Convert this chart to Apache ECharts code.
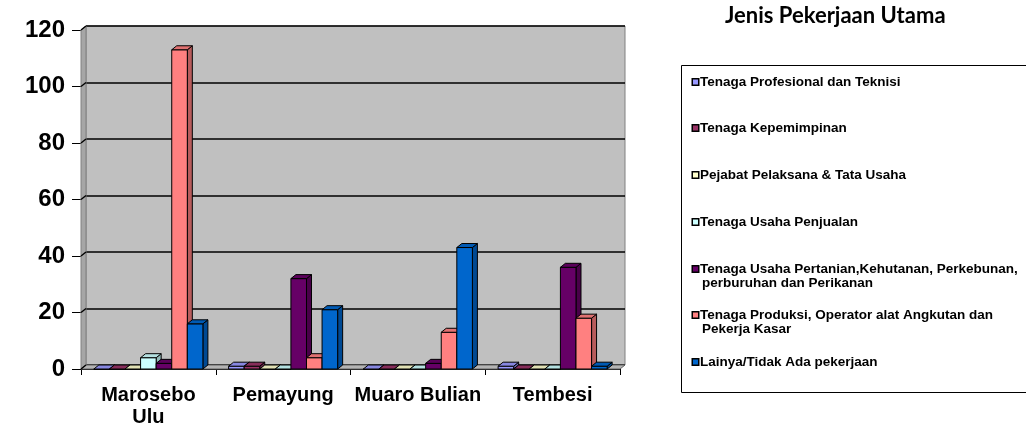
<!DOCTYPE html>
<html>
<head>
<meta charset="utf-8">
<script src="https://cdn.jsdelivr.net/npm/echarts@6/dist/echarts.min.js"></script>
<style>
  html, body { margin: 0; padding: 0; background: #ffffff; }
  #chart { width: 1026px; height: 428px; }
</style>
</head>
<body>
<div id="chart"></div>
<script>
// ---------- data ----------
const categories = ["Marosebo\nUlu", "Pemayung", "Muaro Bulian", "Tembesi"];
const yTicks = [0, 20, 40, 60, 80, 100, 120];

const seriesNames = [
  "Tenaga Profesional dan Teknisi",
  "Tenaga Kepemimpinan",
  "Pejabat Pelaksana & Tata Usaha",
  "Tenaga Usaha Penjualan",
  "Tenaga Usaha Pertanian,Kehutanan, Perkebunan, perburuhan dan Perikanan",
  "Tenaga Produksi, Operator alat Angkutan dan Pekerja Kasar",
  "Lainya/Tidak Ada pekerjaan"
];
const legendLines = [
  ["Tenaga Profesional dan Teknisi"],
  ["Tenaga Kepemimpinan"],
  ["Pejabat Pelaksana & Tata Usaha"],
  ["Tenaga Usaha Penjualan"],
  ["Tenaga Usaha Pertanian,Kehutanan, Perkebunan,", "perburuhan dan Perikanan"],
  ["Tenaga Produksi, Operator alat Angkutan dan", "Pekerja Kasar"],
  ["Lainya/Tidak Ada pekerjaan"]
];

const profesional  = [0, 1, 0, 1];
const kepemimpinan = [0, 1, 0, 0];
const pejabat      = [0, 0, 0, 0];
const penjualan    = [4, 0, 0, 0];
const pertanian    = [2, 32, 2, 36];
const produksi     = [113, 4, 13, 18];
const lainnya      = [16, 21, 43, 1];
const allValues = [profesional, kepemimpinan, pejabat, penjualan, pertanian, produksi, lainnya];

// ---------- style ----------
const colors = ["#9999FF", "#993366", "#FFFFCC", "#CCFFFF", "#660066", "#FF8080", "#0066CC"];
const FONT = "'Liberation Sans', Arial, sans-serif";
const DX = 5, DY = 4;            // fake 3D depth
const BAR_RATIO = 0.1156;        // bar width as share of category band
const legendTops = [75, 121, 168, 215, 262, 308, 355];

function shade(hex, f) {
  const n = parseInt(hex.slice(1), 16);
  const r = Math.round(((n >> 16) & 255) * f);
  const g = Math.round(((n >> 8) & 255) * f);
  const b = Math.round((n & 255) * f);
  return "rgb(" + r + "," + g + "," + b + ")";
}

function makeBarRenderer(sIdx) {
  return function (params, api) {
    const cat = api.value(0), v = api.value(1);
    const base = api.coord([cat, 0]);
    const top = api.coord([cat, v]);
    const band = api.size([1, 0])[0];
    const w = band * BAR_RATIO;
    const n = allValues.length;
    const x0 = base[0] - w * n / 2 + w * sIdx;
    const yb = base[1], yt = top[1];
    const c = colors[sIdx];
    const stroke = { stroke: "#000", lineWidth: 1 };
    return {
      type: "group",
      children: [
        { type: "polygon",
          shape: { points: [[x0 + w, yt], [x0 + w + DX, yt - DY], [x0 + w + DX, yb - DY], [x0 + w, yb]] },
          style: Object.assign({ fill: shade(c, 0.72) }, stroke) },
        { type: "rect",
          shape: { x: x0, y: yt, width: w, height: yb - yt },
          style: Object.assign({ fill: c }, stroke) },
        { type: "polygon",
          shape: { points: [[x0, yt], [x0 + w, yt], [x0 + w + DX, yt - DY], [x0 + DX, yt - DY]] },
          style: Object.assign({ fill: shade(c, 0.88) }, stroke) }
      ]
    };
  };
}

function renderFrame(params, api) {
  const n = categories.length;
  const band = api.size([1, 0])[0];
  const c0 = api.coord([0, 0]);
  const left = c0[0] - band / 2;
  const right = left + band * n;
  const y0 = c0[1];
  const yTop = api.coord([0, yTicks[yTicks.length - 1]])[1];
  const children = [
    { type: "polygon",
      shape: { points: [[left, y0], [left, yTop], [left + DX, yTop - DY], [left + DX, y0 - DY]] },
      style: { fill: "#A6A6A6", stroke: "#808080", lineWidth: 1 } },
    { type: "polygon",
      shape: { points: [[left, y0], [right, y0], [right + DX, y0 - DY], [left + DX, y0 - DY]] },
      style: { fill: "#B4B4B4", stroke: "#606060", lineWidth: 1 } }
  ];
  yTicks.forEach(function (t) {
    const y = api.coord([0, t])[1];
    children.push({ type: "line",
      shape: { x1: left, y1: y, x2: left + DX, y2: y - DY },
      style: { stroke: "#000", lineWidth: 1.5 } });
  });
  return { type: "group", children: children };
}

const series = [{
  type: "custom",
  name: "_frame",
  xAxisIndex: 1, yAxisIndex: 1,
  z: 1, silent: true,
  renderItem: renderFrame,
  data: [[0, 0]]
}];
allValues.forEach(function (vals, i) {
  series.push({
    type: "custom",
    name: seriesNames[i],
    xAxisIndex: 1, yAxisIndex: 1,
    z: 2,
    itemStyle: { color: colors[i] },
    renderItem: makeBarRenderer(i),
    data: vals.map(function (v, k) { return [k, v]; })
  });
});

const legends = seriesNames.map(function (name, i) {
  const lines = legendLines[i];
  return {
    data: [name],
    left: 688,
    top: legendTops[i],
    orient: "vertical",
    padding: 0,
    itemWidth: 0,
    itemHeight: 0,
    icon: "rect",
    itemStyle: { borderWidth: 0, color: "rgba(0,0,0,0)" },
    selectedMode: false,
    formatter: function () {
      let s = "{b|}{t|" + lines[0] + "}";
      for (let k = 1; k < lines.length; k++) s += "\n{p|}{t|" + lines[k] + "}";
      return s;
    },
    textStyle: {
      fontFamily: FONT, fontWeight: "bold", fontSize: 13.5, lineHeight: 14, color: "#000",
      rich: {
        b: { width: 5, height: 5, backgroundColor: colors[i], borderColor: "#000", borderWidth: 1.5 },
        p: { width: 7 },
        t: { fontFamily: FONT, fontWeight: "bold", fontSize: 13.5, lineHeight: 14, color: "#000", padding: [0, 0, 0, 2] }
      }
    }
  };
});

const option = {
  animation: false,
  backgroundColor: "#ffffff",
  title: {
    text: "Jenis Pekerjaan Utama",
    left: 725, top: 5, padding: 0,
    textStyle: { fontFamily: "Lato, 'Open Sans', sans-serif", fontWeight: "bold", fontSize: 22, lineHeight: 22, color: "#000" }
  },
  legend: legends,
  graphic: [{
    type: "rect", left: 681, top: 65, silent: true, z: -1,
    shape: { width: 360, height: 327 },
    style: { fill: "#fff", stroke: "#000", lineWidth: 1 }
  }],
  grid: [
    { left: 86, right: 401, top: 26, bottom: 63, show: true, backgroundColor: "#C0C0C0", borderColor: "#808080", borderWidth: 1 },
    { left: 81, right: 406, top: 30, bottom: 59 }
  ],
  xAxis: [
    { gridIndex: 0, type: "category", data: categories, show: false },
    { gridIndex: 1, type: "category", data: categories,
      axisLine: { show: true, lineStyle: { color: "#000", width: 1 } },
      axisTick: { show: true, length: 6, interval: 0, lineStyle: { color: "#000" } },
      axisLabel: { interval: 0, margin: 15, fontFamily: FONT, fontWeight: "bold", fontSize: 20, lineHeight: 22, color: "#000" },
      splitLine: { show: false } }
  ],
  yAxis: [
    { gridIndex: 0, type: "value", min: 0, max: 120, interval: 20,
      axisLine: { show: false }, axisTick: { show: false }, axisLabel: { show: false },
      splitLine: { show: true, lineStyle: { color: "#000", width: 1.5 } } },
    { gridIndex: 1, type: "value", min: 0, max: 120, interval: 20,
      axisLine: { show: true, lineStyle: { color: "#000", width: 1 } },
      axisTick: { show: true, length: 9, lineStyle: { color: "#000" } },
      axisLabel: { margin: 16, fontFamily: FONT, fontWeight: "bold", fontSize: 24, color: "#000" },
      splitLine: { show: false } }
  ],
  series: series
};

const chart = echarts.init(document.getElementById("chart"), null, { renderer: "canvas" });
chart.setOption(option);
</script>
</body>
</html>
